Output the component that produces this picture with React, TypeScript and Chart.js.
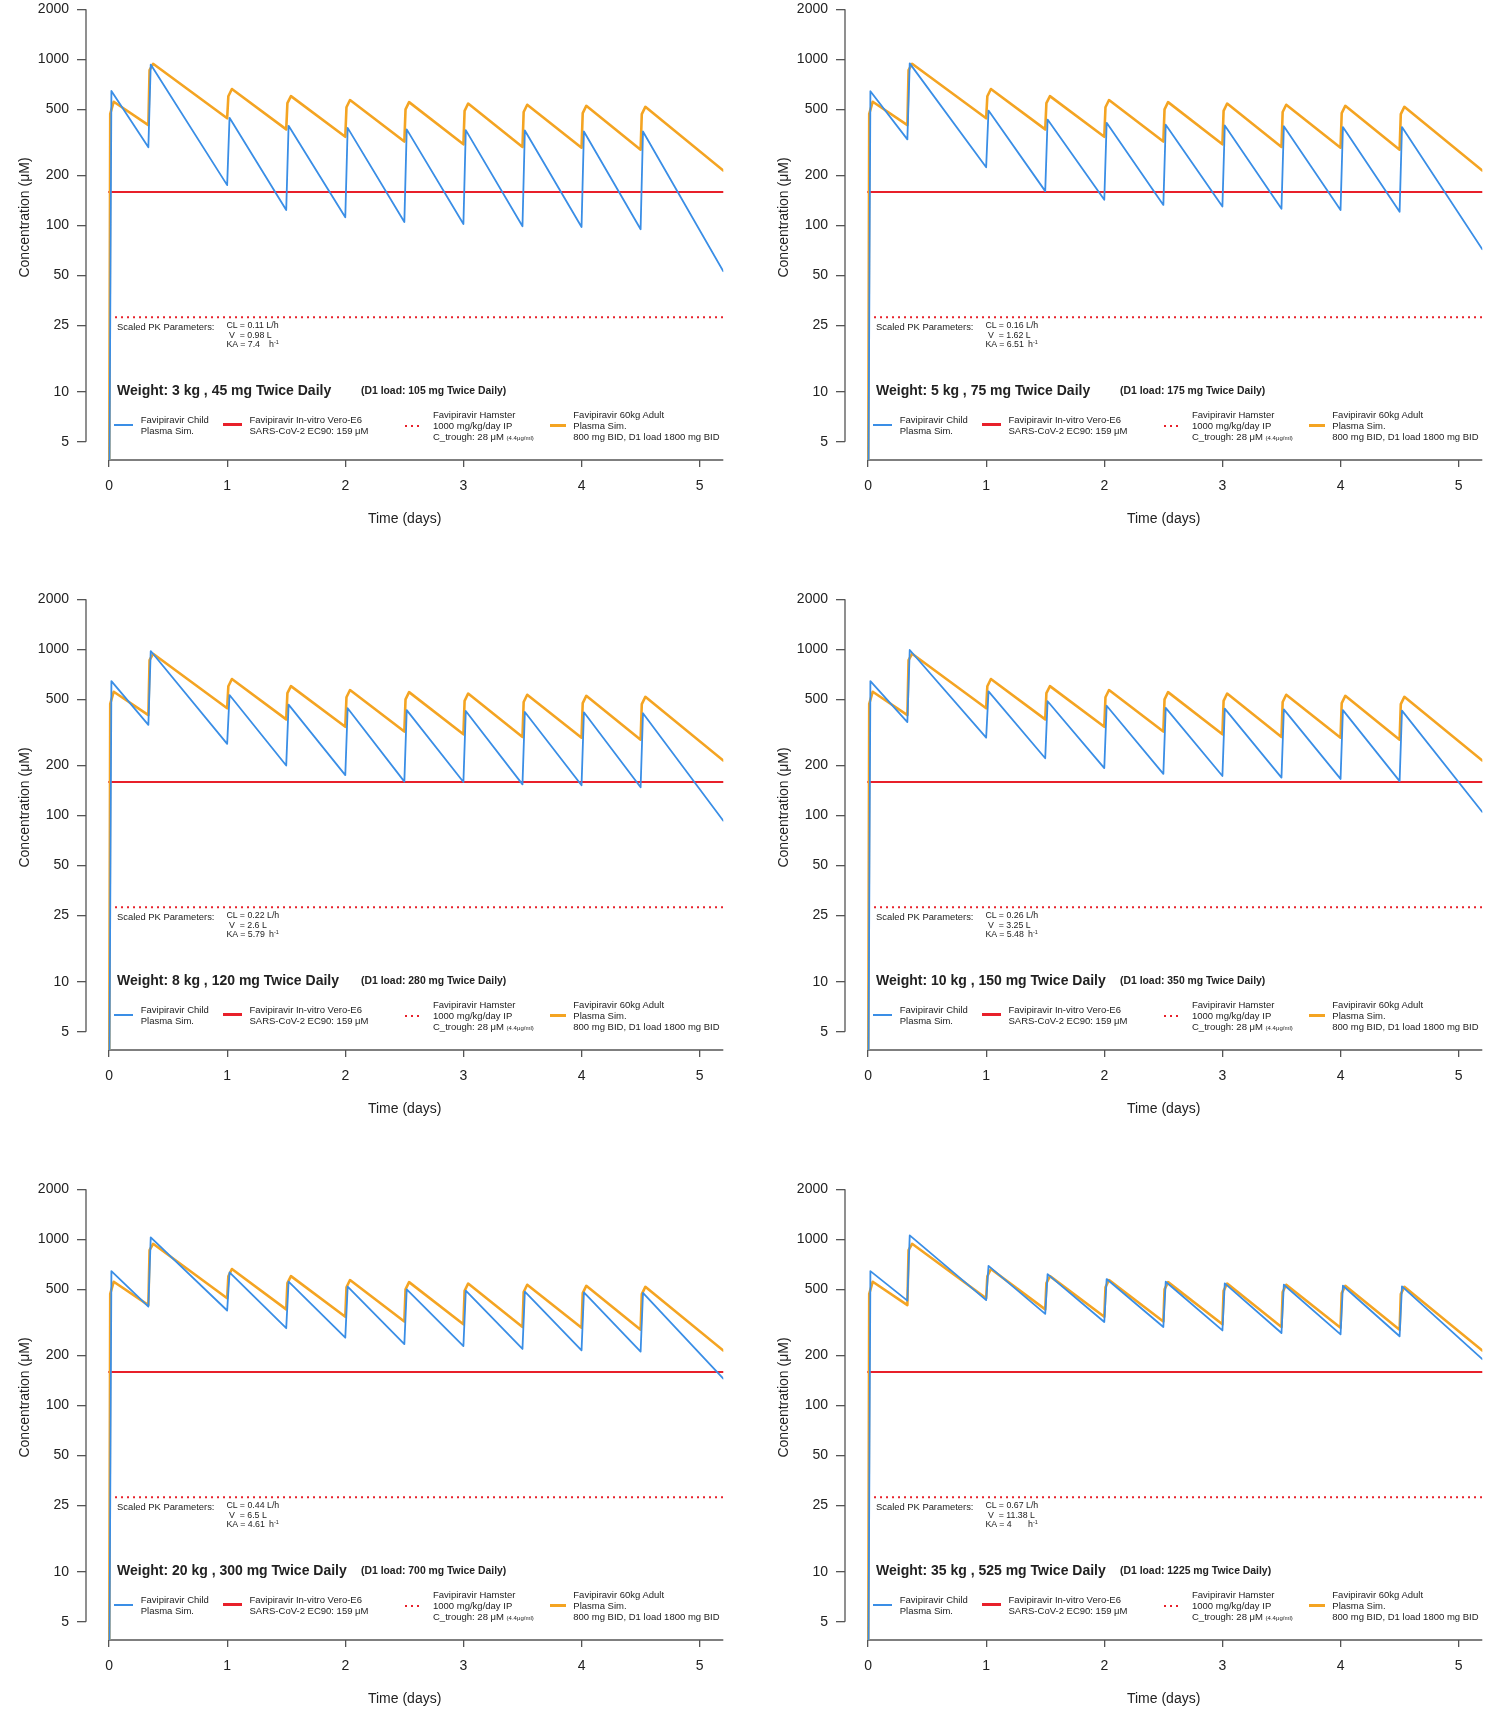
import { useEffect, useRef } from "react";
import { Chart, registerables } from "chart.js";

Chart.register(...registerables);

const FONT = "'Liberation Sans', Arial, Helvetica, sans-serif";
const BLUE = "#3a8ee6";
const ORANGE = "#f4a422";
const RED = "#e8202a";
const AXIS = "#555";
const TEXT = "#222";

// dosing schedule (days) shared by every panel
const doseDays = [0, 0.333, 1, 1.5, 2, 2.5, 3, 3.5, 4, 4.5];
const endDay = 5.2;
const childPeakLag = 0.02;
const adultShoulderLag = 0.01;
const adultPeakLag = 0.04;

// 60 kg adult simulation (same in all panels)
const adultTroughs = [1, 402, 442, 379, 342, 320, 308, 297, 294, 286];
const adultShoulders = [470, 860, 600, 545, 515, 500, 490, 482, 475, 468];
const adultPeaks = [556, 940, 663, 601, 569, 553, 542, 533, 525, 518];
const adultEnd = 214;

// child simulations, one row per panel
const childTroughs = [
  [1, 296, 175, 124, 112, 105, 102, 99, 98, 95],
  [1, 330, 224, 161, 143, 133, 130, 126, 124, 121],
  [1, 351, 270, 200, 175, 160, 159, 154, 152, 148],
  [1, 365, 294, 221, 193, 178, 173, 169, 166, 161],
  [1, 394, 373, 292, 256, 234, 228, 219, 215, 211],
  [1, 428, 431, 356, 318, 297, 283, 273, 268, 261],
];
const childPeaks = [
  [645, 930, 445, 398, 387, 379, 375, 373, 368, 368],
  [643, 946, 492, 434, 415, 404, 400, 396, 391, 391],
  [644, 977, 531, 465, 442, 431, 426, 420, 418, 413],
  [644, 991, 559, 487, 458, 444, 440, 435, 431, 428],
  [644, 1028, 632, 556, 519, 500, 491, 484, 479, 476],
  [644, 1056, 693, 618, 577, 556, 543, 533, 526, 521],
];
const childEnds = [53, 72, 93, 105, 145, 190];

const weights = [3, 5, 8, 10, 20, 35];
const twiceDailyDoses = [45, 75, 120, 150, 300, 525];
const loadDoses = [105, 175, 280, 350, 700, 1225];
const clearances = ["0.11", "0.16", "0.22", "0.26", "0.44", "0.67"];
const volumes = ["0.98", "1.62", "2.6", "3.25", "6.5", "11.38"];
const absorptions = ["7.4", "6.51", "5.79", "5.48", "4.61", "4"];

const ec90 = 159;
const hamsterTrough = 28;

const xTicks = [0, 1, 2, 3, 4, 5];
const yTicks = [5, 10, 25, 50, 100, 200, 500, 1000, 2000];

type Pt = { x: number; y: number };

function doseCurve(troughs: number[], peaks: number[], end: number, lag: number, shoulders?: number[]) {
  const pts: Pt[] = [];
  doseDays.forEach((d, i) => {
    pts.push({ x: d, y: troughs[i] });
    if (shoulders) pts.push({ x: d + adultShoulderLag, y: shoulders[i] });
    pts.push({ x: d + lag, y: peaks[i] });
  });
  pts.push({ x: endDay, y: end });
  return pts;
}

const axisLines = {
  id: "axisLines",
  beforeDatasetsDraw(chart: any) {
    const { ctx, chartArea, scales } = chart;
    ctx.save();
    ctx.strokeStyle = AXIS;
    ctx.lineWidth = 1.3;
    ctx.beginPath();
    ctx.moveTo(chartArea.left, scales.y.getPixelForValue(yTicks[yTicks.length - 1]));
    ctx.lineTo(chartArea.left, scales.y.getPixelForValue(yTicks[0]));
    ctx.moveTo(scales.x.getPixelForValue(xTicks[0]), chartArea.bottom);
    ctx.lineTo(chartArea.right, chartArea.bottom);
    ctx.stroke();
    ctx.restore();
  },
};

function Txt(props: { x: number; cy: number; size: number; bold?: boolean; children: any }) {
  const lh = props.size * 1.2;
  return (
    <div
      style={{
        position: "absolute",
        left: props.x,
        top: props.cy - lh / 2,
        fontSize: props.size,
        lineHeight: `${lh}px`,
        fontWeight: props.bold ? "bold" : "normal",
        whiteSpace: "pre",
      }}
    >
      {props.children}
    </div>
  );
}

function Swatch(props: { x1: number; x2: number; y: number; h: number; color: string; dotted?: boolean }) {
  return (
    <div
      style={{
        position: "absolute",
        left: props.x1,
        top: props.y - props.h / 2,
        width: props.x2 - props.x1,
        height: props.h,
        background: props.dotted
          ? `repeating-linear-gradient(to right, ${props.color} 0 2px, transparent 2px 6px)`
          : props.color,
      }}
    />
  );
}

function Panel({ index }: { index: number }) {
  const canvasRef = useRef<HTMLCanvasElement>(null);
  const row = Math.floor(index / 2);
  const col = index % 2;

  useEffect(() => {
    const ctx = canvasRef.current?.getContext("2d");
    if (!ctx) return;
    Chart.defaults.font.family = FONT;
    const chart = new Chart(ctx, {
      type: "line",
      data: {
        datasets: [
          {
            data: doseCurve(childTroughs[index], childPeaks[index], childEnds[index], childPeakLag),
            borderColor: BLUE,
            borderWidth: 1.8,
          },
          {
            data: doseCurve(adultTroughs, adultPeaks, adultEnd, adultPeakLag, adultShoulders),
            borderColor: ORANGE,
            borderWidth: 2.6,
          },
          {
            data: [
              { x: 0, y: ec90 },
              { x: endDay, y: ec90 },
            ],
            borderColor: RED,
            borderWidth: 2,
          },
          {
            data: [
              { x: 0, y: hamsterTrough },
              { x: endDay, y: hamsterTrough },
            ],
            borderColor: RED,
            borderWidth: 2,
            borderDash: [2, 4],
            borderCapStyle: "butt",
          },
        ].map((d) => ({
          pointRadius: 0,
          tension: 0,
          borderJoinStyle: "round" as const,
          borderCapStyle: "round" as const,
          ...d,
        })) as any,
      },
      options: {
        animation: false,
        responsive: false,
        events: [],
        layout: { padding: { left: 4, right: 20.7, top: 20, bottom: 5 } },
        plugins: { legend: { display: false }, tooltip: { enabled: false } },
        scales: {
          x: {
            type: "linear",
            min: -0.195,
            max: endDay,
            border: { display: false },
            grid: { drawOnChartArea: false, drawTicks: true, tickLength: 7, color: AXIS, lineWidth: 1.3 },
            ticks: {
              padding: 10.6,
              color: TEXT,
              font: { size: 14 },
              autoSkip: false,
              maxRotation: 0,
              callback: (v: any) => String(v),
            },
            afterBuildTicks: (s: any) => {
              s.ticks = xTicks.map((value) => ({ value }));
            },
            afterFit: (s: any) => {
              s.height = 70;
            },
            title: {
              display: true,
              text: "Time (days)",
              color: TEXT,
              font: { size: 14 },
              padding: { top: 0, bottom: 2.3 },
            },
          },
          y: {
            type: "logarithmic",
            min: 3.878,
            max: 3219,
            border: { display: false },
            grid: { drawOnChartArea: false, drawTicks: true, tickLength: 9, color: AXIS, lineWidth: 1.3 },
            ticks: {
              padding: 8,
              color: TEXT,
              font: { size: 14 },
              autoSkip: false,
              callback: (v: any) => String(v),
            },
            afterBuildTicks: (s: any) => {
              s.ticks = yTicks.map((value) => ({ value }));
            },
            afterFit: (s: any) => {
              s.width = 82;
            },
            title: {
              display: true,
              text: "Concentration (μM)",
              color: TEXT,
              font: { size: 14 },
              padding: { top: 12.6, bottom: 0 },
            },
          },
        },
      },
      plugins: [axisLines],
    });
    return () => chart.destroy();
  }, [index]);

  return (
    <div style={{ position: "absolute", left: col * 759, top: row * 590, width: 759, height: 590 }}>
      <canvas
        ref={canvasRef}
        width={744}
        height={580}
        style={{ position: "absolute", left: 0, top: -45, width: 744, height: 580 }}
      />

      <Txt x={117} cy={326.5} size={9.4}>Scaled PK Parameters:</Txt>
      <Txt x={226.5} cy={325.7} size={8.8}>{`CL = ${clearances[index]} L/h`}</Txt>
      <Txt x={226.5} cy={335.2} size={8.8}>{` V  = ${volumes[index]} L`}</Txt>
      <Txt x={226.5} cy={344.7} size={8.8}>{`KA = ${absorptions[index]}`}</Txt>
      <Txt x={269} cy={344.7} size={8.8}>
        h<span style={{ fontSize: 5.5, position: "relative", top: -3.5 }}>-1</span>
      </Txt>

      <Txt x={117} cy={390.7} size={14} bold>
        {`Weight: ${weights[index]} kg , ${twiceDailyDoses[index]} mg Twice Daily`}
      </Txt>
      <Txt x={361} cy={391.7} size={10.4} bold>
        {`(D1 load: ${loadDoses[index]} mg Twice Daily)`}
      </Txt>

      <Swatch x1={114} x2={132.5} y={424.5} h={2} color={BLUE} />
      <Txt x={140.7} cy={419.4} size={9.5}>Favipiravir Child</Txt>
      <Txt x={140.7} cy={430.7} size={9.5}>Plasma Sim.</Txt>

      <Swatch x1={222.7} x2={242} y={424.5} h={2.5} color={RED} />
      <Txt x={249.5} cy={419.4} size={9.5}>Favipiravir In-vitro Vero-E6</Txt>
      <Txt x={249.5} cy={430.7} size={9.5}>{`SARS-CoV-2 EC90: ${ec90} μM`}</Txt>

      <Swatch x1={405} x2={422} y={425.7} h={2} color={RED} dotted />
      <Txt x={433} cy={414.4} size={9.5}>Favipiravir Hamster</Txt>
      <Txt x={433} cy={425.7} size={9.5}>1000 mg/kg/day IP</Txt>
      <Txt x={433} cy={437} size={9.5}>
        {`C_trough: ${hamsterTrough} μM `}
        <span style={{ fontSize: 6 }}>(4.4μg/ml)</span>
      </Txt>

      <Swatch x1={550.4} x2={566} y={425.7} h={2.5} color={ORANGE} />
      <Txt x={573.3} cy={414.4} size={9.5}>Favipiravir 60kg Adult</Txt>
      <Txt x={573.3} cy={425.7} size={9.5}>Plasma Sim.</Txt>
      <Txt x={573.3} cy={437} size={9.5}>800 mg BID, D1 load 1800 mg BID</Txt>
    </div>
  );
}

export default function App() {
  return (
    <div
      style={{
        position: "absolute",
        left: 0,
        top: 0,
        width: 1495,
        height: 1712,
        overflow: "hidden",
        background: "#fff",
        fontFamily: FONT,
        color: TEXT,
      }}
    >
      {weights.map((_, i) => (
        <Panel key={i} index={i} />
      ))}
    </div>
  );
}
